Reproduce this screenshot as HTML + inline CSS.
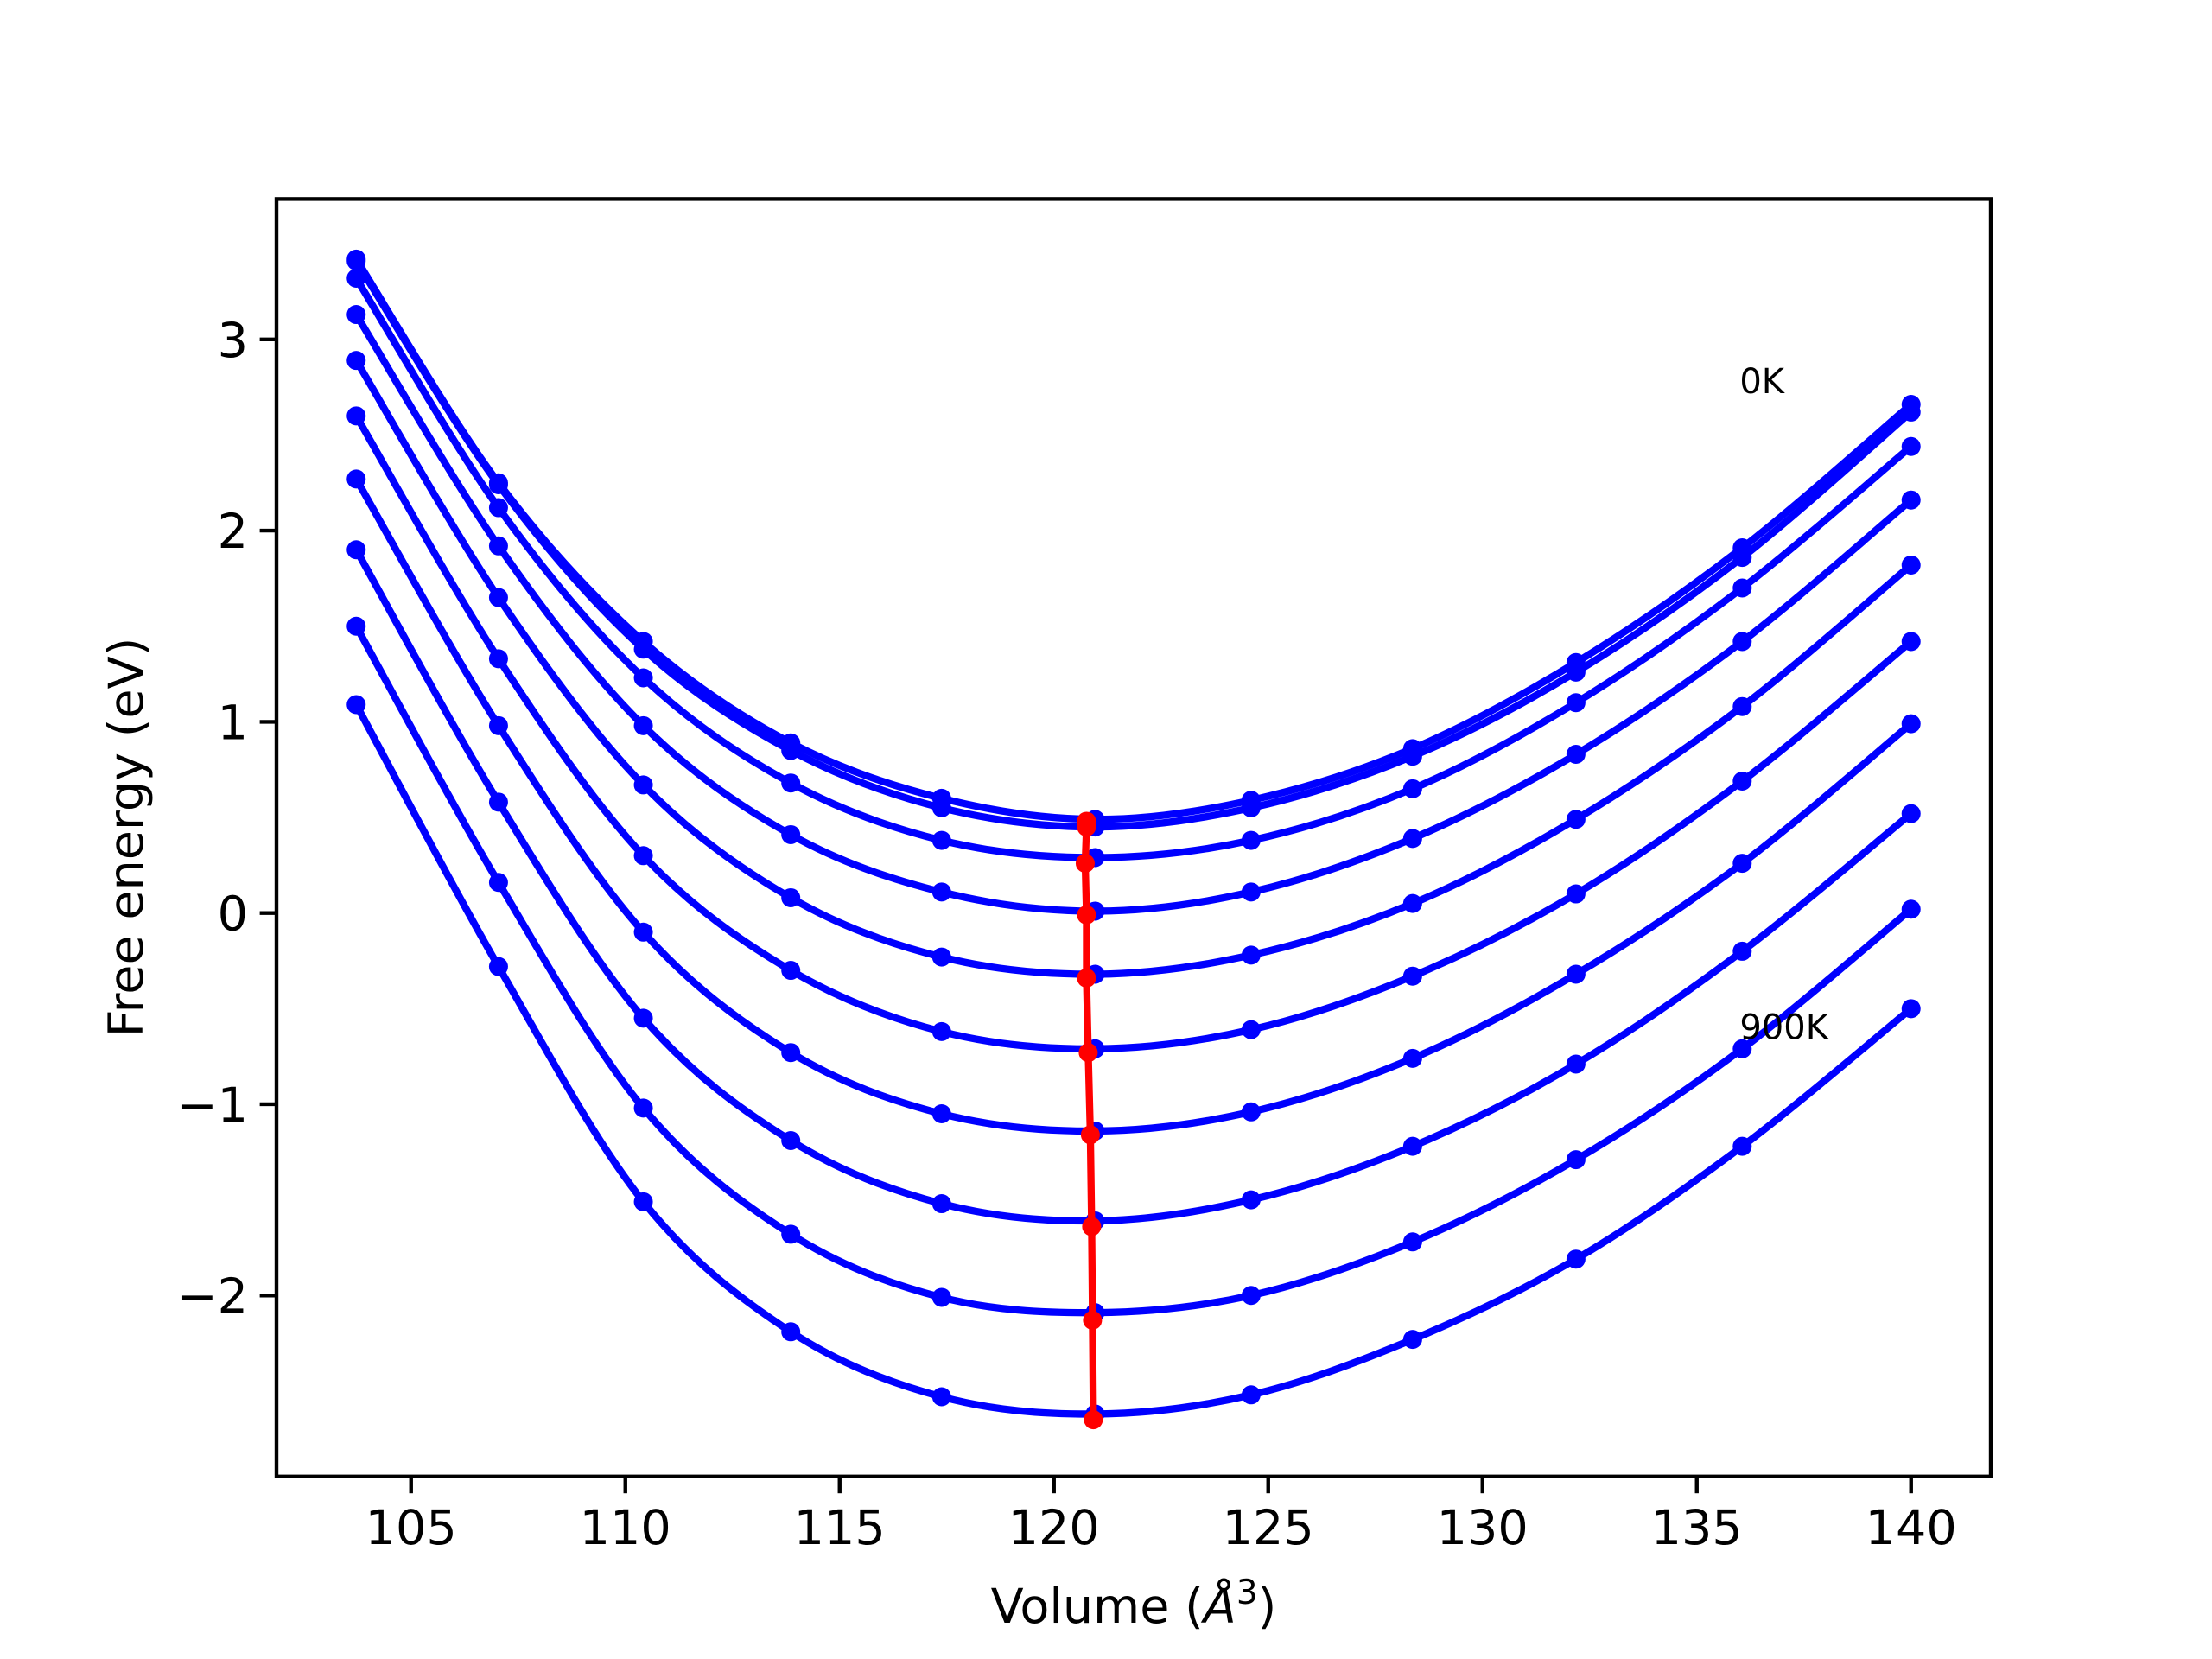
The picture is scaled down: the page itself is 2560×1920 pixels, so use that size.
<!DOCTYPE html>
<html><head><meta charset="utf-8"><style>
html,body{margin:0;padding:0;background:#fff;}
svg{display:block;font-family:"DejaVu Sans","Liberation Sans",sans-serif;}
</style></head><body>
<svg id="chart" width="2560" height="1920" viewBox="0 0 2560 1920" xmlns="http://www.w3.org/2000/svg">
<rect x="0" y="0" width="2560" height="1920" fill="#fff"/>
<g id="plot"></g>
<g id="axes"></g>
</svg>
<script>
const volumes = [103.72, 107.04, 110.42, 113.86, 117.38, 120.96, 124.6, 128.37, 132.18, 136.06, 140.0];
const curve0K = [3.42, 2.25, 1.42, 0.89, 0.60, 0.49, 0.59, 0.86, 1.31, 1.91, 2.66];
const curve100K = [3.41, 2.24, 1.38, 0.85, 0.55, 0.45, 0.55, 0.82, 1.26, 1.86, 2.62];
const curve200K = [3.32, 2.12, 1.23, 0.68, 0.38, 0.29, 0.38, 0.65, 1.10, 1.70, 2.44];
const curve300K = [3.13, 1.92, 0.98, 0.41, 0.11, 0.01, 0.11, 0.39, 0.83, 1.42, 2.16];
const curve400K = [2.89, 1.65, 0.67, 0.08, -0.23, -0.32, -0.22, 0.05, 0.49, 1.08, 1.82];
const curve500K = [2.60, 1.33, 0.30, -0.30, -0.62, -0.71, -0.61, -0.33, 0.10, 0.69, 1.42];
const curve600K = [2.27, 0.98, -0.10, -0.73, -1.05, -1.14, -1.04, -0.76, -0.32, 0.26, 0.99];
const curve700K = [1.90, 0.58, -0.55, -1.19, -1.52, -1.61, -1.50, -1.22, -0.79, -0.20, 0.52];
const curve800K = [1.50, 0.16, -1.02, -1.68, -2.01, -2.09, -2.00, -1.72, -1.29, -0.71, 0.02];
const curve900K = [1.09, -0.28, -1.51, -2.19, -2.53, -2.62, -2.52, -2.23, -1.81, -1.22, -0.50];
const minVolumes = [120.76, 120.76, 120.73, 120.76, 120.76, 120.8, 120.85, 120.88, 120.9, 120.92];
const minEnergies = [0.48, 0.45, 0.26, -0.01, -0.34, -0.73, -1.16, -1.64, -2.13, -2.65];
const xTicks = [105, 110, 115, 120, 125, 130, 135, 140];
const yTicks = [-2, -1, 0, 1, 2, 3];
const labelTexts = ["0K", "900K"];
const labelX = [136.0, 136.0];
const labelY = [2.72, -0.66];

const NS = "http://www.w3.org/2000/svg";
const L = 320, R = 2304, T = 230.4, B = 1708.8;
const xMin = 101.86, xMax = 141.86, yMin = -2.947, yMax = 3.734;
function sx(v){ return L + (v - xMin) / (xMax - xMin) * (R - L); }
function sy(v){ return B - (v - yMin) / (yMax - yMin) * (B - T); }
function mk(tag, attrs, parent){ const e = document.createElementNS(NS, tag); for (const k in attrs) e.setAttribute(k, attrs[k]); parent.appendChild(e); return e; }
const plot = document.getElementById('plot');
const axes = document.getElementById('axes');

function spline(xs, ys){
  const p = xs.map((x,i)=>[sx(x), sy(ys[i])]);
  let d = `M${p[0][0]},${p[0][1]}`;
  for (let i=0;i<p.length-1;i++){
    const p0=p[Math.max(0,i-1)], p1=p[i], p2=p[i+1], p3=p[Math.min(p.length-1,i+2)];
    const c1=[p1[0]+(p2[0]-p0[0])/6, p1[1]+(p2[1]-p0[1])/6];
    const c2=[p2[0]-(p3[0]-p1[0])/6, p2[1]-(p3[1]-p1[1])/6];
    d += ` C${c1[0]},${c1[1]} ${c2[0]},${c2[1]} ${p2[0]},${p2[1]}`;
  }
  return d;
}
const curves = [curve0K, curve100K, curve200K, curve300K, curve400K, curve500K, curve600K, curve700K, curve800K, curve900K];
curves.forEach((c, ci) => {
  const path = mk('path', {d: spline(volumes, c), fill:'none', stroke:'#0000ff', 'stroke-width':8.3, 'stroke-linejoin':'round', 'stroke-linecap':'round'}, plot);
  
  
  c.forEach((v, i) => {
    const dot = mk('circle', {cx: sx(volumes[i]), cy: sy(v), r: 11, fill:'#0000ff'}, plot);
    
    
  });
});
const minPath = mk('polyline', {points: minVolumes.map((v,i)=>sx(v)+','+sy(minEnergies[i])).join(' '), fill:'none', stroke:'#ff0000', 'stroke-width':8.3, 'stroke-linejoin':'round'}, plot);


minVolumes.forEach((v,i)=>{
  const m = mk('circle', {cx: sx(v), cy: sy(minEnergies[i]), r: 11, fill:'#ff0000'}, plot);
  
  
});
labelTexts.forEach((t,i)=>{
  const tx = mk('text', {x: sx(labelX[i]), y: sy(labelY[i]), 'font-size': 40, fill:'#000'}, plot);
  tx.textContent = t;
  
  
});

const frame = mk('rect', {x:L, y:T, width:R-L, height:B-T, fill:'none', stroke:'#000', 'stroke-width':4.4}, axes);


xTicks.forEach(v=>{
  const x = sx(v);
  const tk = mk('line', {x1:x, x2:x, y1:B, y2:B+19.4, stroke:'#000', 'stroke-width':4.4}, axes);
  
  
  const lb = mk('text', {x:x, y:B+78, 'font-size':55.6, 'text-anchor':'middle', fill:'#000'}, axes);
  lb.textContent = String(v);
  
  
});
yTicks.forEach(v=>{
  const y = sy(v);
  const tk = mk('line', {x1:L-19.4, x2:L, y1:y, y2:y, stroke:'#000', 'stroke-width':4.4}, axes);
  
  
  const lb = mk('text', {x:L-33, y:y+20, 'font-size':55.6, 'text-anchor':'end', fill:'#000'}, axes);
  lb.textContent = v < 0 ? '\u2212' + Math.abs(v) : String(v);
  
  
});
</script>
<svg style="position:absolute;left:0;top:0" width="2560" height="1920">
<text x="1312" y="1878" font-size="55.6" text-anchor="middle" font-family="DejaVu Sans, Liberation Sans, sans-serif">Volume (<tspan font-style="italic">Å</tspan><tspan font-size="39" dy="-22">3</tspan><tspan dy="22">)</tspan></text>
<text x="165" y="969" font-size="55.6" text-anchor="middle" font-family="DejaVu Sans, Liberation Sans, sans-serif" transform="rotate(-90 165 969)">Free energy (eV)</text>
</svg>
</body></html>
